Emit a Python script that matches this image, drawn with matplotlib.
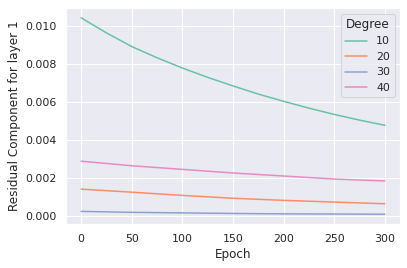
import matplotlib
matplotlib.use("Agg")
import matplotlib.pyplot as plt
import seaborn as sns

epochs_10 = [0, 25, 50, 75, 100, 125, 150, 175, 200, 225, 250, 275, 300]
res_10 = [0.01042, 0.00963, 0.00891, 0.00832, 0.00778, 0.00729, 0.00684,
          0.00641, 0.00603, 0.00567, 0.00534, 0.00504, 0.00477]

epochs = [0, 50, 100, 150, 200, 250, 300]
res_20 = [0.00141, 0.00125, 0.00108, 0.00093, 0.00082, 0.00073, 0.00064]
res_30 = [0.00024, 0.00019, 0.00016, 0.00013, 0.00011, 0.00010, 0.00009]
res_40 = [0.00288, 0.00264, 0.00245, 0.00226, 0.00210, 0.00194, 0.00184]

degrees = ["10", "20", "30", "40"]

sns.set_theme(style="darkgrid")
colors = sns.color_palette("Set2", 4)

fig = plt.figure(figsize=(407 / 72, 268 / 72), dpi=72)
ax = fig.add_subplot(111)
fig.subplots_adjust(left=0.162, right=0.983, top=0.970, bottom=0.164)

series = [(epochs_10, res_10), (epochs, res_20), (epochs, res_30), (epochs, res_40)]
for name, (xs, ys), c in zip(degrees, series, colors):
    ax.plot(xs, ys, color=c, label=name, linewidth=1.5)

ax.set_xticks([0, 50, 100, 150, 200, 250, 300])
ax.set_yticks([0.0, 0.002, 0.004, 0.006, 0.008, 0.010])
ax.set_xlabel("Epoch")
ax.set_ylabel("Residual Component for layer 1")
ax.legend(title="Degree", loc="upper right")

fig.savefig("out.png", dpi=72)
